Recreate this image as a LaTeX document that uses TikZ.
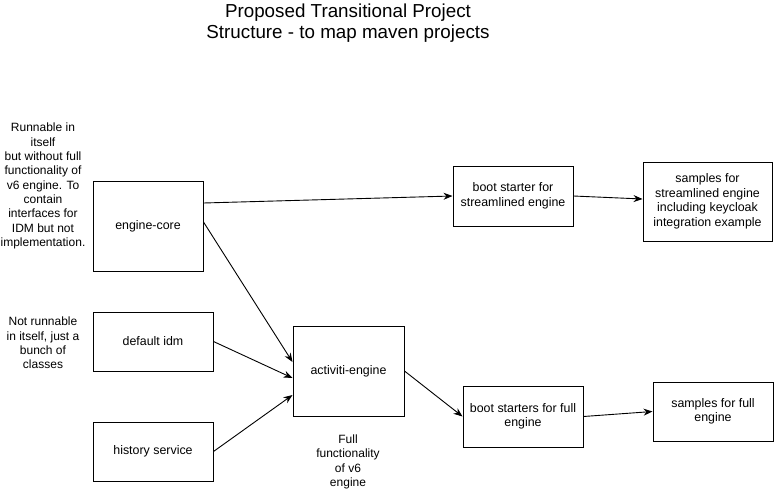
\documentclass[tikz,border=0pt]{standalone}
\usepackage{fontspec}
\setmainfont{Liberation Sans}
\usetikzlibrary{arrows.meta}

\begin{document}
\begin{tikzpicture}[x=1pt, y=-1pt,
  box/.style = {draw, line width=1pt, inner sep=0pt, align=center, font=\fontsize{12.4}{14.5}\selectfont},
  note/.style = {align=center, inner sep=0pt, font=\fontsize{12}{14.3}\selectfont},
  arr/.style = {draw, line width=0.9pt, -{Stealth[length=9pt, width=7pt]}}]

\useasboundingbox (0, 0) rectangle (774, 488);

\node[align=center, font=\fontsize{18.8}{21}\selectfont] (title) at (348, 23) {Proposed Transitional Project\\Structure - to map maven projects};

\node[box, minimum width=110, minimum height=90] (core) at (148, 226.5) {engine-core};
\node[box, minimum width=120, minimum height=59] (idm) at (153, 341.5) {default idm};
\node[box, minimum width=120, minimum height=59] (hist) at (153, 451.5) {history service};
\node[box, minimum width=111, minimum height=90] (engine) at (348.5, 371) {activiti-engine};

\node[box, minimum width=120, minimum height=60] (bootS) at (513, 196) {boot starter for\\streamlined engine};
\node[box, minimum width=129, minimum height=79] (sampS) at (707.5, 201.5) {samples for\\streamlined engine\\including keycloak\\integration example};
\node[box, minimum width=120, minimum height=61] (bootF) at (523, 416.5) {boot starters for full\\engine};
\node[box, minimum width=120, minimum height=59] (sampF) at (713, 411.5) {samples for full\\engine};

\node[note] (coreNote) at (43, 186) {Runnable in\\itself\\but without full\\functionality of\\v6 engine. To\\contain\\interfaces for\\IDM but not\\implementation.};
\node[note] (idmNote) at (43, 343) {Not runnable\\in itself, just a\\bunch of\\classes};
\node[note] (engineNote) at (348, 462) {Full\\functionality\\of v6\\engine};

\draw[arr] ([yshift=23.5]core.east) -- (bootS.west);
\draw[arr] ([yshift=4.5]core.east) -- ([yshift=9]engine.west);
\draw[arr] (idm.east) -- ([yshift=-7]engine.west);
\draw[arr] (hist.east) -- ([yshift=-24]engine.west);

\draw[arr] (engine.east) -- (bootF.west);
\draw[arr] (bootS.east) -- ([yshift=2.5]sampS.west);
\draw[arr] (bootF.east) -- (sampF.west);

\end{tikzpicture}
\end{document}
